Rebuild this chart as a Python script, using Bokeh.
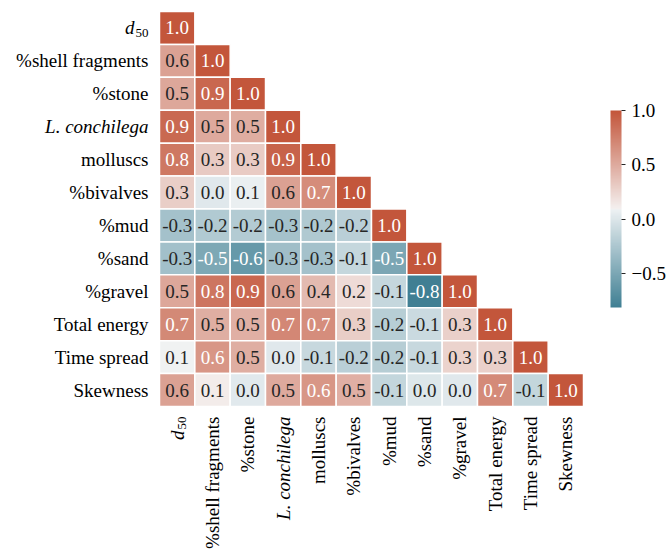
import math

from bokeh.plotting import figure
from bokeh.models import (ColumnDataSource, LinearColorMapper, ColorBar, FixedTicker,
                          PrintfTickFormatter, Range1d)
from bokeh.transform import transform
from bokeh.core.properties import value
from bokeh.embed import file_html
from bokeh.resources import INLINE

# ---- data -------------------------------------------------------------------
variables = ["d50", "%shell fragments", "%stone", "L. conchilega", "molluscs",
             "%bivalves", "%mud", "%sand", "%gravel", "Total energy",
             "Time spread", "Skewness"]
italic_vars = ["L. conchilega"]

# lower triangle of the correlation matrix, one list per row
corr_d50 = [1.00]
corr_shell = [0.56, 1.00]
corr_stone = [0.52, 0.90, 1.00]
corr_lconch = [0.88, 0.51, 0.49, 1.00]
corr_molluscs = [0.80, 0.32, 0.31, 0.92, 1.00]
corr_bivalves = [0.30, 0.02, 0.07, 0.56, 0.68, 1.00]
corr_mud = [-0.29, -0.22, -0.21, -0.28, -0.23, -0.18, 1.00]
corr_sand = [-0.30, -0.49, -0.61, -0.31, -0.29, -0.12, -0.50, 1.00]
corr_gravel = [0.52, 0.81, 0.90, 0.56, 0.41, 0.22, -0.12, -0.81, 1.00]
corr_energy = [0.70, 0.48, 0.47, 0.71, 0.67, 0.30, -0.19, -0.09, 0.28, 1.00]
corr_spread = [0.09, 0.62, 0.48, 0.02, -0.11, -0.18, -0.20, -0.11, 0.27, 0.28, 1.00]
corr_skew = [0.56, 0.12, 0.03, 0.51, 0.62, 0.47, -0.13, 0.01, 0.02, 0.69, -0.13, 1.00]
corr_rows = [corr_d50, corr_shell, corr_stone, corr_lconch, corr_molluscs,
             corr_bivalves, corr_mud, corr_sand, corr_gravel, corr_energy,
             corr_spread, corr_skew]

colorbar_ticks = [-0.5, 0.0, 0.5, 1.0]

FONT = "Liberation Serif"
FS = "19px"
NAME_FS = "19px"
SUB_FS = "13px"
DARK = "#262626"

# ---- page geometry (pixels) ---------------------------------------------------
W, H = 667, 550
GRID_L, GRID_R, GRID_T, GRID_B = 159, 583, 11, 406

# ---- diverging colour map (blue -> light grey -> red) -----------------------
NEG_END = (63, 127, 147)
NEG_GRAY = (237, 241, 243)
MID = (242, 242, 242)
POS_GRAY = (244, 239, 238)
POS_END = (195, 85, 58)


def lerp(a, b, t):
    return tuple(a[k] + (b[k] - a[k]) * t for k in range(3))


nodes = ([lerp(NEG_END, NEG_GRAY, k / 127) for k in range(128)] + [MID] +
         [lerp(POS_GRAY, POS_END, k / 127) for k in range(128)])


def cmap(p):
    p = min(max(p, 0.0), 1.0) * 256
    i = min(int(p), 255)
    return lerp(nodes[i], nodes[i + 1], p - i)


def to_hex(c):
    return "#%02x%02x%02x" % tuple(int(round(v)) for v in c)


palette = [to_hex(cmap((i + 0.5) / 256)) for i in range(256)]
all_vals = [v for row in corr_rows for v in row]
vmin, vmax = min(all_vals), max(all_vals)
mapper = LinearColorMapper(palette=palette, low=vmin, high=vmax)


def luminance(hexcol):
    rgb = [int(hexcol[k:k + 2], 16) / 255 for k in (1, 3, 5)]
    lin = [c / 12.92 if c <= 0.03928 else ((c + 0.055) / 1.055) ** 2.4 for c in rgb]
    return 0.2126 * lin[0] + 0.7152 * lin[1] + 0.0722 * lin[2]


def text_color(v):
    idx = min(int((v - vmin) / (vmax - vmin) * 256), 255)
    return DARK if luminance(palette[idx]) > 0.408 else "white"


xs, ys, vals, labels, tcolors = [], [], [], [], []
for i, row in enumerate(corr_rows):
    for j, v in enumerate(row):
        xs.append(j)
        ys.append(i)
        vals.append(v)
        labels.append(f"{v:.1f}")
        tcolors.append(text_color(v))

cells = ColumnDataSource(dict(x=xs, y=ys, val=vals, label=labels, tcolor=tcolors))

# the frame fills the whole page so that the category names can sit beside the grid
n = len(variables)
cw = (GRID_R - GRID_L) / n
ch = (GRID_B - GRID_T) / n
p = figure(width=W, height=H, output_backend="svg", toolbar_location=None,
           x_range=Range1d(-0.5 - GRID_L / cw, n - 0.5 + (W - GRID_R) / cw),
           y_range=Range1d(n - 0.5 + (H - GRID_B) / ch, -0.5 - GRID_T / ch),
           x_axis_type=None, y_axis_type=None, min_border=0)
p.outline_line_color = None
p.background_fill_color = "white"
p.border_fill_color = "white"

p.rect(x="x", y="y", width=1, height=1, source=cells,
       fill_color=transform("val", mapper), line_color="white", line_width=1.5)
p.text(x="x", y="y", text="label", source=cells, text_color="tcolor",
       text_align="center", text_baseline="middle",
       text_font=value(FONT), text_font_size=FS)

# ---- category names -------------------------------------------------------------
plain_idx = [k for k, name in enumerate(variables) if k > 0 and name not in italic_vars]
ital_idx = [k for k, name in enumerate(variables) if name in italic_vars]

for idx, style in ((plain_idx, "normal"), (ital_idx, "italic")):
    names = [variables[k] for k in idx]
    left_src = ColumnDataSource(dict(x=[-0.5] * len(idx), y=idx, text=names))
    bottom_src = ColumnDataSource(dict(x=idx, y=[n - 0.5] * len(idx), text=names))
    p.text(x="x", y="y", text="text", source=left_src, x_offset=-11,
           text_align="right", text_baseline="middle", text_font=value(FONT),
           text_font_size=NAME_FS, text_font_style=style, text_color="black")
    p.text(x="x", y="y", text="text", source=bottom_src, y_offset=10,
           angle=math.pi / 2, text_align="right", text_baseline="middle",
           text_font=value(FONT), text_font_size=NAME_FS, text_font_style=style,
           text_color="black")

# d50 drawn as an italic d with a subscript 50
p.text(x=[-0.5], y=[0], text=["50"], x_offset=-11, y_offset=5,
       text_align="right", text_baseline="middle", text_font=value(FONT),
       text_font_size=SUB_FS, text_color="black")
p.text(x=[-0.5], y=[0], text=["d"], x_offset=-25, y_offset=0,
       text_align="right", text_baseline="middle", text_font=value(FONT),
       text_font_size=NAME_FS, text_font_style="italic", text_color="black")
p.text(x=[0], y=[n - 0.5], text=["50"], x_offset=5, y_offset=10,
       angle=math.pi / 2, text_align="right", text_baseline="middle",
       text_font=value(FONT), text_font_size=SUB_FS, text_color="black")
p.text(x=[0], y=[n - 0.5], text=["d"], x_offset=0, y_offset=24,
       angle=math.pi / 2, text_align="right", text_baseline="middle",
       text_font=value(FONT), text_font_size=NAME_FS, text_font_style="italic",
       text_color="black")

# ---- colour bar -----------------------------------------------------------------
cbar = ColorBar(color_mapper=mapper, ticker=FixedTicker(ticks=colorbar_ticks),
                formatter=PrintfTickFormatter(format="%.1f"),
                major_label_overrides={-0.5: "\u22120.5"},
                width=11, height=197, location=(610, H - 307), padding=0, margin=0,
                major_tick_in=0, major_tick_out=4, major_tick_line_color=DARK,
                minor_tick_line_color=None, label_standoff=6,
                major_label_text_font=FONT, major_label_text_font_size=FS,
                major_label_text_color="black",
                bar_line_color=None, border_line_color=None,
                background_fill_color=None)
p.add_layout(cbar, "center")

open("out.html", "w").write(file_html(p, INLINE))
